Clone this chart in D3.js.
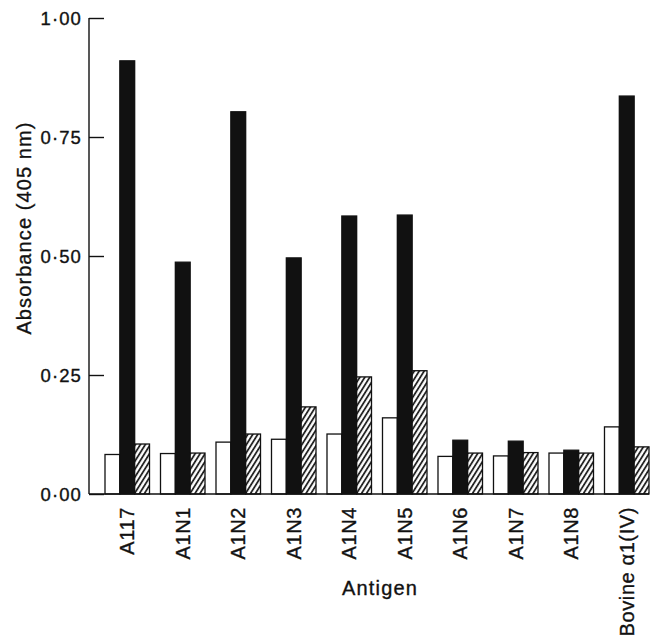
<!DOCTYPE html>
<html>
<head>
<meta charset="utf-8">
<script src="https://cdn.jsdelivr.net/npm/d3@7"></script>
<style>
  html, body { margin: 0; padding: 0; background: #fff; }
  svg { display: block; }
  text { font-family: "Liberation Sans", Arial, sans-serif; fill: #111; stroke: #111; stroke-width: 0.35px; }
</style>
</head>
<body>
<svg id="chart" width="655" height="639"></svg>
<script>
// Data
const categories = ["A117", "A1N1", "A1N2", "A1N3", "A1N4", "A1N5", "A1N6", "A1N7", "A1N8", "Bovine α1(IV)"];
const seriesNames = ["open", "solid", "hatched"];
const openValues    = [0.083, 0.085, 0.109, 0.115, 0.126, 0.160, 0.079, 0.080, 0.086, 0.141];
const solidValues   = [0.910, 0.487, 0.803, 0.496, 0.584, 0.586, 0.113, 0.111, 0.092, 0.836];
const hatchedValues = [0.105, 0.086, 0.126, 0.183, 0.246, 0.259, 0.086, 0.087, 0.086, 0.099];
const yTicks = [0, 0.25, 0.5, 0.75, 1.0];
const yTickLabels = ["0·00", "0·25", "0·50", "0·75", "1·00"];

const svg = d3.select("#chart");
const ink = "#111";

// Pattern for hatched bars
const defs = svg.append("defs");
const pat = defs.append("pattern")
  .attr("id", "hatch")
  .attr("patternUnits", "userSpaceOnUse")
  .attr("width", 4.2).attr("height", 4.2)
  .attr("patternTransform", "rotate(32)");
pat.append("rect").attr("width", 4.2).attr("height", 4.2).attr("fill", "#fff");
pat.append("line").attr("x1", 1).attr("y1", 0).attr("x2", 1).attr("y2", 4.2)
  .attr("stroke", ink).attr("stroke-width", 1.7);

const axisX = 89;
const y = d3.scaleLinear().domain([0, 1]).range([494, 18]);
const x0 = d3.scaleBand().domain(categories).range([105, 649]).paddingInner(0.198).paddingOuter(0);
const x1 = d3.scaleBand().domain(seriesNames).range([0, x0.bandwidth()]).padding(0);

const valuesBySeries = { open: openValues, solid: solidValues, hatched: hatchedValues };
const fills = { open: "#fff", solid: ink, hatched: "url(#hatch)" };

const rows = categories.map((c, i) => ({
  cat: c,
  vals: seriesNames.map(s => ({ s, v: valuesBySeries[s][i] }))
}));

const g = svg.append("g");
const groups = g.selectAll("g.grp").data(rows).join("g")
  .attr("class", "grp")
  .attr("transform", d => `translate(${x0(d.cat)},0)`);

groups.selectAll("rect").data(d => d.vals).join("rect")
  .attr("x", d => x1(d.s))
  .attr("width", x1.bandwidth())
  .attr("y", d => y(d.v))
  .attr("height", d => y(0) - y(d.v))
  .attr("fill", d => fills[d.s])
  .attr("stroke", ink)
  .attr("stroke-width", 1.3);

// Y axis (ticks inward)
const yAxis = d3.axisRight(y).tickValues(yTicks).tickSize(15).tickFormat("");
const ya = svg.append("g").attr("transform", `translate(${axisX},0)`).call(yAxis);
ya.select(".domain").remove();
ya.selectAll(".tick line").attr("stroke", ink).attr("stroke-width", 1.4);
svg.append("line")
  .attr("x1", axisX).attr("x2", axisX)
  .attr("y1", y(1)).attr("y2", y(0))
  .attr("stroke", ink).attr("stroke-width", 1.4);

// Y tick labels
svg.append("g").selectAll("text").data(yTicks).join("text")
  .attr("x", 82)
  .attr("y", d => y(d))
  .attr("dy", "0.36em")
  .attr("text-anchor", "end")
  .attr("font-size", 18.5)
  .attr("letter-spacing", 1.1)
  .text((d, i) => yTickLabels[i]);

// X baseline
svg.append("line")
  .attr("x1", axisX).attr("x2", x0.range()[1])
  .attr("y1", y(0)).attr("y2", y(0))
  .attr("stroke", ink).attr("stroke-width", 1.4);

// X category labels (rotated)
svg.append("g").selectAll("text").data(categories).join("text")
  .attr("transform", d => `translate(${x0(d) + x0.bandwidth() / 2},507) rotate(-90)`)
  .attr("dy", "0.36em")
  .attr("text-anchor", "end")
  .attr("font-size", 20)
  .attr("letter-spacing", 0.6)
  .text(d => d);

// Axis titles
svg.append("text")
  .attr("x", 380).attr("y", 595)
  .attr("text-anchor", "middle")
  .attr("font-size", 20)
  .attr("letter-spacing", 1.2)
  .text("Antigen");

svg.append("text")
  .attr("transform", "translate(31,228) rotate(-90)")
  .attr("text-anchor", "middle")
  .attr("font-size", 20)
  .attr("letter-spacing", 1.1)
  .text("Absorbance (405 nm)");
</script>
</body>
</html>
